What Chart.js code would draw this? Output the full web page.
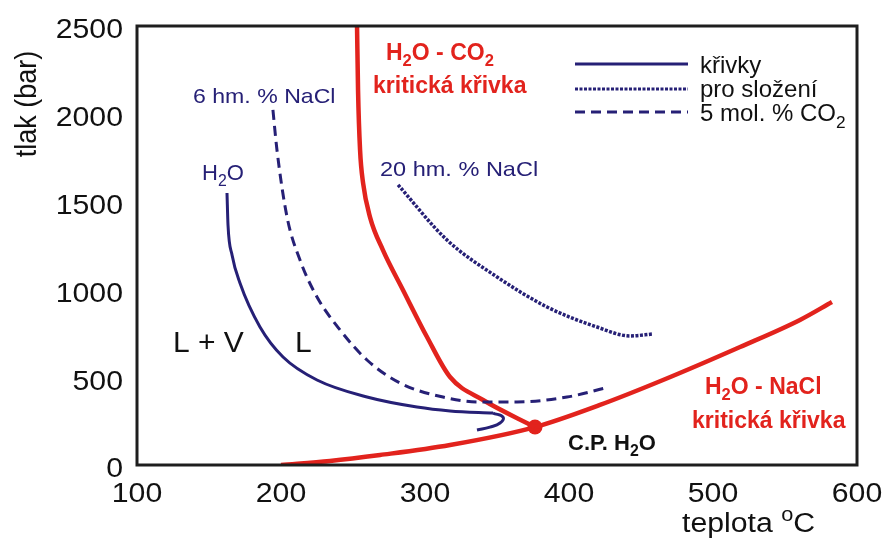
<!DOCTYPE html>
<html>
<head>
<meta charset="utf-8">
<script src="https://cdn.jsdelivr.net/npm/chart.js@4.4.1/dist/chart.umd.min.js"></script>
<style>
  html, body { margin: 0; padding: 0; background: #fff; }
  #wrap { width: 884px; height: 540px; }
</style>
</head>
<body>
<div id="wrap"><canvas id="chart"></canvas></div>
<script>
// axis ticks
var xTicks = [100, 200, 300, 400, 500, 600];
var yTicks = [0, 500, 1000, 1500, 2000, 2500];

// H2O - CO2 critical curve (red)
var co2T = [252.8, 253.5, 254.9, 257, 261.8, 270.8, 284.7, 301.4, 317.4, 340.3, 376.4];
var co2P = [2500, 2135, 1794, 1606, 1412, 1224, 997, 729, 501, 370, 216];

// H2O - NaCl critical curve (red)
var naclT = [200, 234, 268.8, 317.4, 376.4, 421.5, 465.3, 518.8, 560.4, 582.6];
var naclP = [0, 23, 57, 114, 216, 342, 484, 672, 826, 928];

// pure water curve (solid) and its end hook
var h2oT = [162.5, 163.2, 166, 171.5, 185.4, 201.4, 225, 259.7, 294.4, 317.4, 347.2];
var h2oP = [1549, 1367, 1196, 1036, 786, 615, 484, 387, 330, 308, 296];
var hookT = [347.2, 354.2, 352.1, 345.1, 336.1];
var hookP = [296, 273, 239, 216, 199];

// 6 wt. % NaCl (dashed)
var nacl6T = [194.4, 197.2, 204.2, 213.2, 225, 241, 259.7, 282.6, 312.5, 338.2, 363.9, 398.6, 425];
var nacl6P = [2022, 1794, 1412, 1167, 957, 769, 598, 467, 387, 359, 359, 387, 438];

// 20 wt. % NaCl (dotted)
var nacl20T = [281.3, 315.3, 350, 384.7, 419.4, 442.4, 458.3];
var nacl20P = [1595, 1281, 1071, 900, 786, 735, 746];

// critical point of water
var cpT = [376.4];
var cpP = [216];

var BLUE = "#262076";
var RED = "#e2231d";
var FONT = '"Liberation Sans", Arial, sans-serif';

function pts(t, p) {
  return t.map(function (v, i) {
    return { x: v, y: p[i] };
  });
}

function curve(t, p, color, width, dash, smooth) {
  var ds = {
    data: pts(t, p),
    showLine: true,
    borderColor: color,
    borderWidth: width,
    borderDash: dash || [],
    borderCapStyle: "butt",
    pointRadius: 0,
    fill: false,
  };
  if (smooth) {
    ds.tension = smooth;
  } else {
    ds.cubicInterpolationMode = "monotone";
  }
  return ds;
}

// text runs: [text, "sub" | "sup" | undefined]
function rich(ctx, parts, x, y, size, weight, color, sx) {
  ctx.save();
  ctx.translate(x, y);
  ctx.scale(sx || 1, 1);
  ctx.fillStyle = color;
  ctx.textAlign = "left";
  ctx.textBaseline = "alphabetic";
  var cx = 0;
  parts.forEach(function (p) {
    var s = p[1] ? size * 0.72 : size;
    var dy = p[1] === "sub" ? size * 0.28 : p[1] === "sup" ? -size * 0.42 : 0;
    ctx.font = weight + " " + s + "px " + FONT;
    ctx.fillText(p[0], cx, dy);
    cx += ctx.measureText(p[0]).width;
  });
  ctx.restore();
}

var decor = {
  id: "decor",
  afterDraw: function (chart) {
    var ctx = chart.ctx;
    var a = chart.chartArea;
    var xs = chart.scales.x;
    var ys = chart.scales.y;

    // frame
    ctx.save();
    ctx.strokeStyle = "#1e1e1e";
    ctx.lineWidth = 3;
    ctx.strokeRect(a.left, a.top, a.right - a.left, a.bottom - a.top);
    ctx.restore();

    // tick labels
    ctx.save();
    ctx.fillStyle = "#111";
    ctx.font = "27px " + FONT;
    ctx.textBaseline = "middle";
    yTicks.forEach(function (v) {
      var py = ys.getPixelForValue(v) + 5;
      ctx.save();
      ctx.translate(123, py);
      ctx.scale(1.12, 1);
      ctx.textAlign = "right";
      ctx.fillText(String(v), 0, 0);
      ctx.restore();
    });
    ctx.textBaseline = "alphabetic";
    xTicks.forEach(function (v) {
      var px = xs.getPixelForValue(v);
      ctx.save();
      ctx.translate(px, 502);
      ctx.scale(1.12, 1);
      ctx.textAlign = "center";
      ctx.fillText(String(v), 0, 0);
      ctx.restore();
    });
    ctx.restore();

    // axis titles
    ctx.save();
    ctx.translate(28, 104);
    ctx.scale(1.12, 1);
    ctx.rotate(-Math.PI / 2);
    ctx.fillStyle = "#111";
    ctx.font = "27px " + FONT;
    ctx.textAlign = "center";
    ctx.textBaseline = "middle";
    ctx.fillText("tlak (bar)", 0, 0);
    ctx.restore();
    rich(ctx, [["teplota "], ["o", "sup"], ["C"]], 682, 532, 27, "normal", "#111", 1.12);

    // curve labels
    rich(ctx, [["H"], ["2", "sub"], ["O - CO"], ["2", "sub"]], 386, 60, 23, "bold", RED, 1);
    rich(ctx, [["kritická křivka"]], 373, 93, 23, "bold", RED, 1);
    rich(ctx, [["H"], ["2", "sub"], ["O - NaCl"]], 705, 394, 23, "bold", RED, 1);
    rich(ctx, [["kritická křivka"]], 692, 428, 23, "bold", RED, 1);
    rich(ctx, [["6 hm. % NaCl"]], 193, 103, 21, "normal", BLUE, 1.1);
    rich(ctx, [["H"], ["2", "sub"], ["O"]], 202, 180, 22, "normal", BLUE, 1);
    rich(ctx, [["20 hm. % NaCl"]], 380, 176, 21, "normal", BLUE, 1.12);
    rich(ctx, [["L + V"]], 173, 352, 30, "normal", "#111", 1);
    rich(ctx, [["L"]], 295, 352, 30, "normal", "#111", 1);
    rich(ctx, [["C.P. H"], ["2", "sub"], ["O"]], 568, 450, 22, "bold", "#111", 1);

    // legend
    var rows = [
      { dash: [], text: [["křivky"]], y: 64, ty: 73 },
      { dash: [3, 1.5], text: [["pro složení"]], y: 89, ty: 97 },
      { dash: [10, 6], text: [["5 mol. % CO"], ["2", "sub"]], y: 112, ty: 121 },
    ];
    rows.forEach(function (r) {
      ctx.save();
      ctx.strokeStyle = BLUE;
      ctx.lineWidth = 3;
      ctx.setLineDash(r.dash);
      ctx.beginPath();
      ctx.moveTo(575, r.y);
      ctx.lineTo(688, r.y);
      ctx.stroke();
      ctx.restore();
      rich(ctx, r.text, 700, r.ty, 24, "normal", "#111", 1);
    });
  },
};

new Chart(document.getElementById("chart"), {
  type: "scatter",
  data: {
    datasets: [
      curve(h2oT, h2oP, BLUE, 3),
      curve(hookT, hookP, BLUE, 3, null, 0.45),
      curve(nacl6T, nacl6P, BLUE, 3, [10, 6]),
      curve(nacl20T, nacl20P, BLUE, 3.5, [3, 1.5]),
      curve(co2T, co2P, RED, 4.5),
      curve(naclT, naclP, RED, 4.5),
      {
        data: pts(cpT, cpP),
        pointRadius: 7.5,
        pointBackgroundColor: RED,
        pointBorderWidth: 0,
        showLine: false,
      },
    ],
  },
  options: {
    responsive: true,
    maintainAspectRatio: false,
    animation: false,
    devicePixelRatio: 1,
    layout: { padding: { top: 26, right: 27, left: 0, bottom: 0 } },
    plugins: {
      legend: { display: false },
      tooltip: { enabled: false },
    },
    scales: {
      x: {
        type: "linear",
        min: 100,
        max: 600,
        ticks: { display: false, stepSize: 100 },
        grid: { display: false },
        border: { display: false },
        afterFit: function (s) {
          s.height = 75;
        },
      },
      y: {
        min: 0,
        max: 2500,
        ticks: { display: false, stepSize: 500 },
        grid: { display: false },
        border: { display: false },
        afterFit: function (s) {
          s.width = 137;
        },
      },
    },
  },
  plugins: [decor],
});
</script>
</body>
</html>
